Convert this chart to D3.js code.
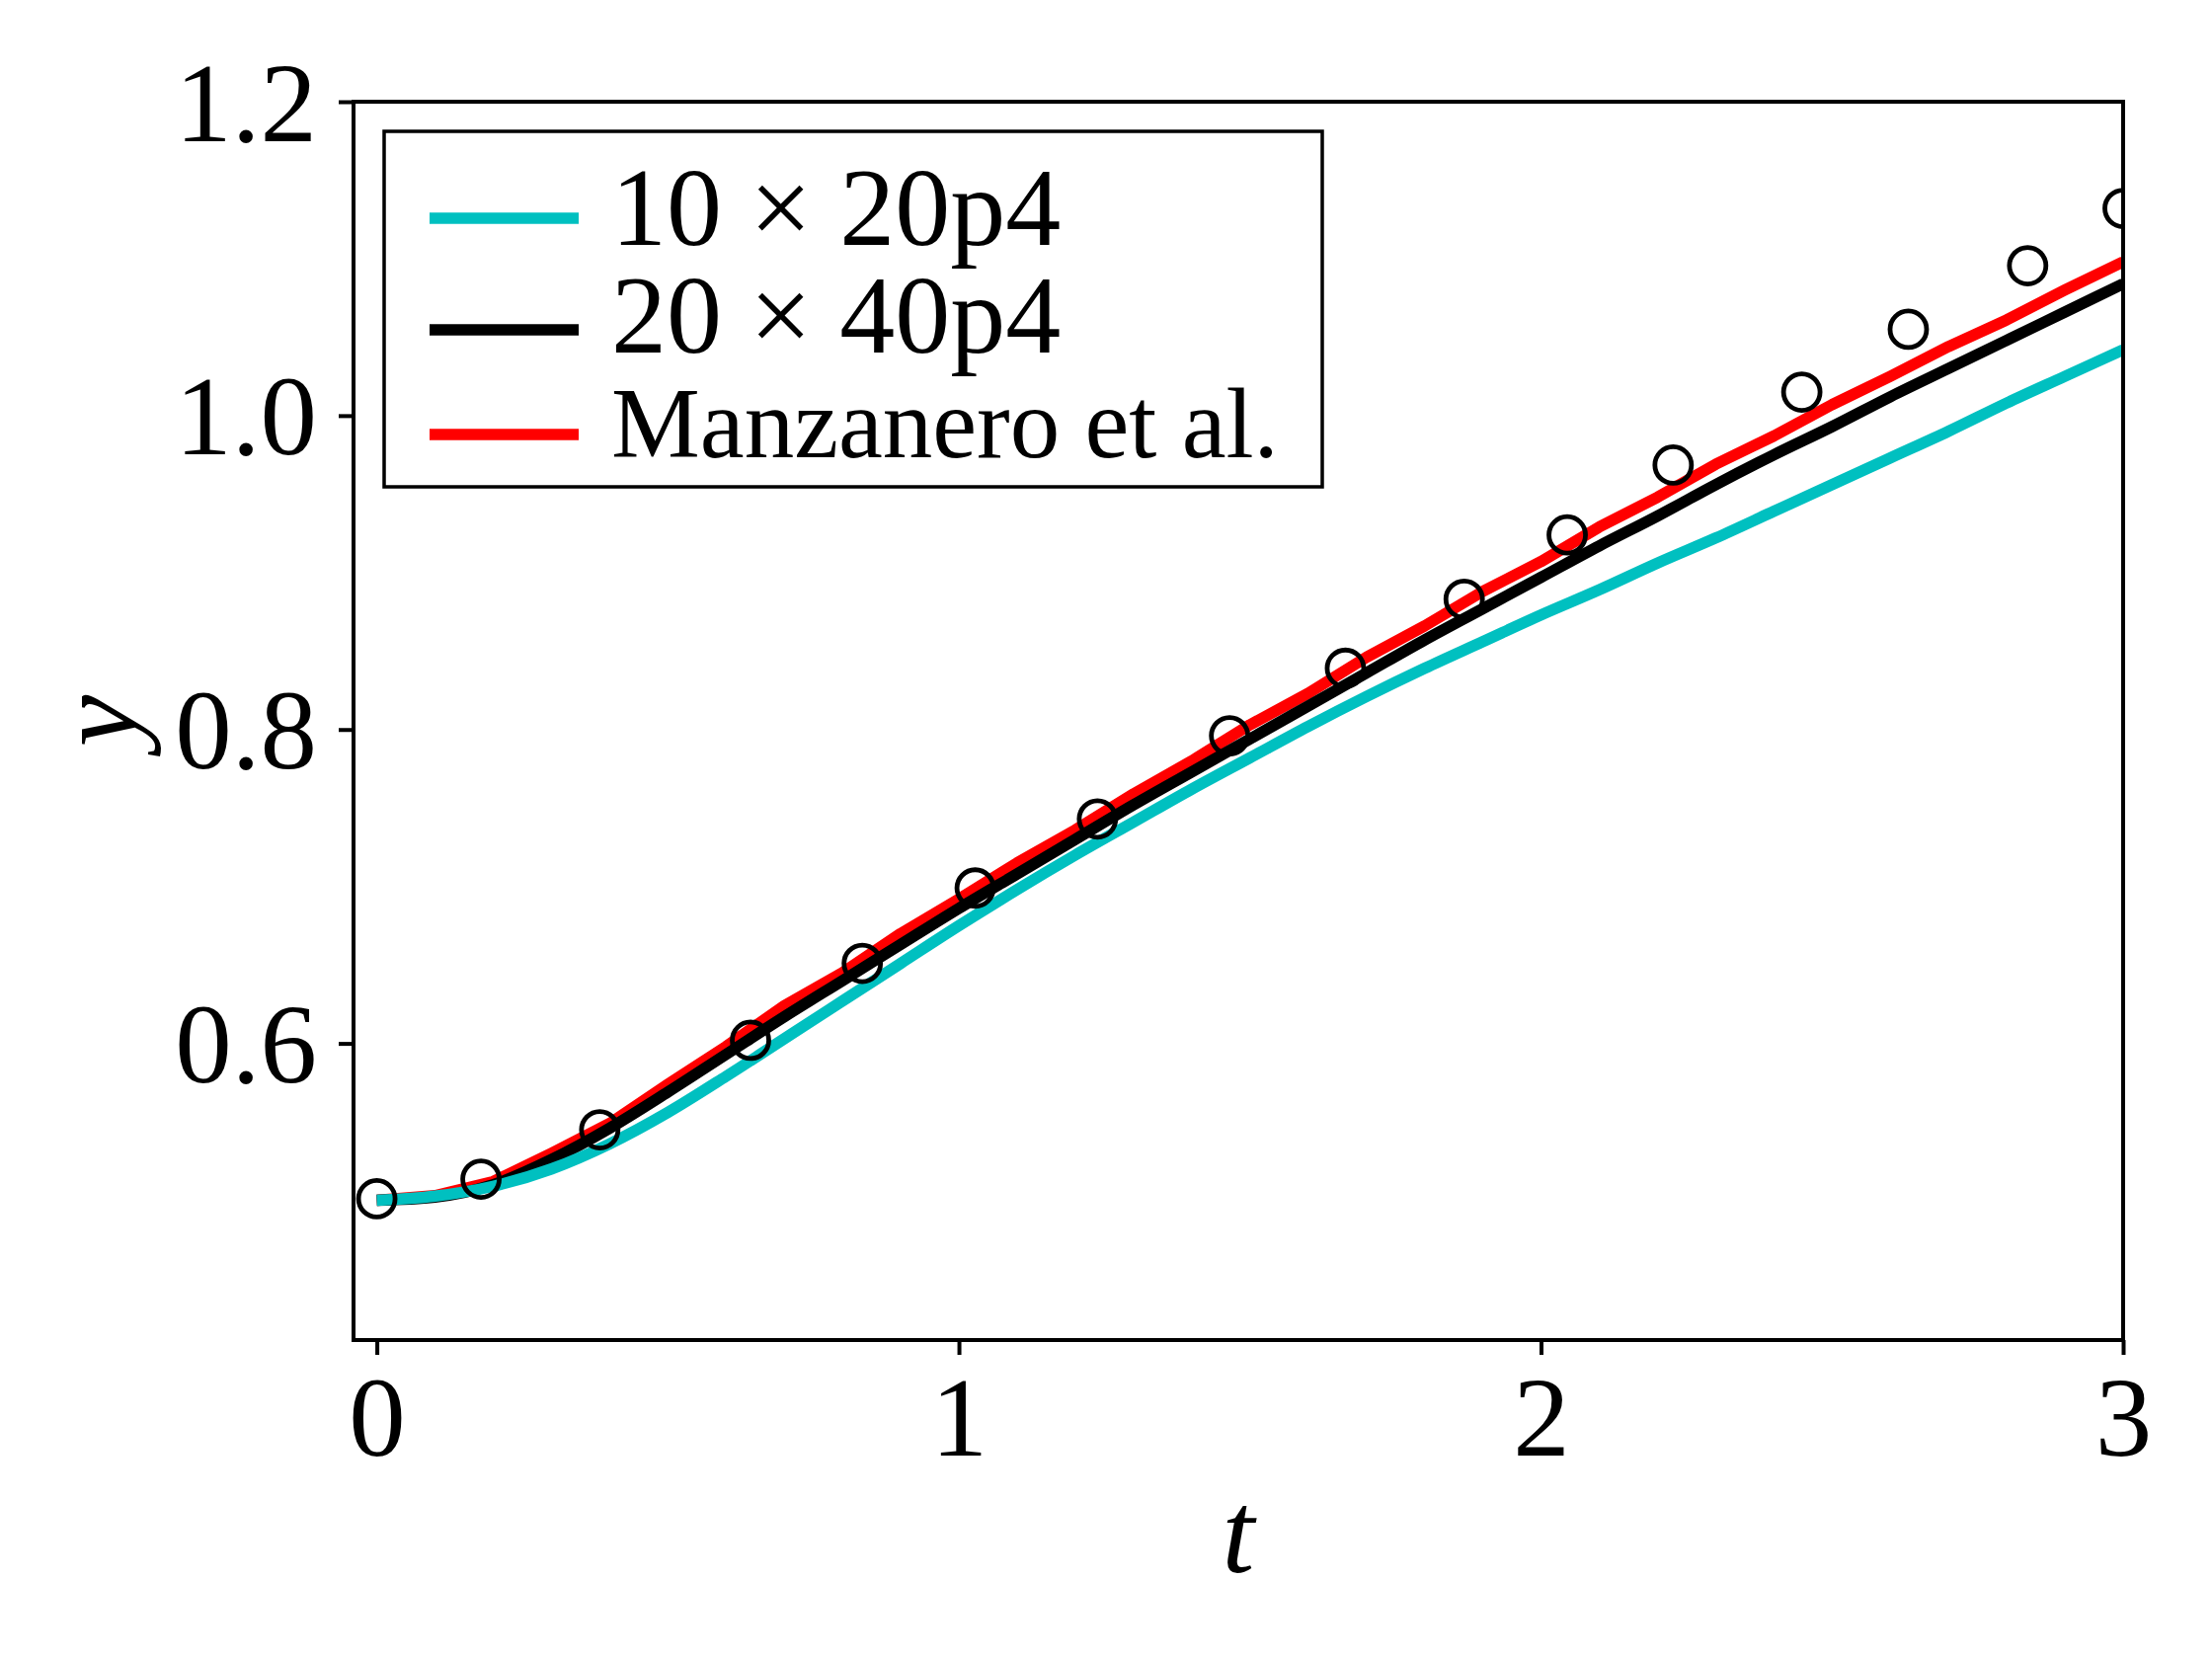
<!DOCTYPE html>
<html>
<head>
<meta charset="utf-8">
<script src="https://cdn.jsdelivr.net/npm/d3@7"></script>
<style>
  body { margin: 0; background: white; }
  svg { overflow: visible; }
  text { font-family: 'Liberation Serif', 'DejaVu Serif', serif; fill: black; }
</style>
</head>
<body>
<svg id="chart"></svg>
<script>
// time samples shared by the three curves
let tSamples = [0, 0.1, 0.2, 0.3, 0.4, 0.5, 0.6, 0.7, 0.8, 0.9, 1.0,
  1.1, 1.2, 1.3, 1.4, 1.5, 1.6, 1.7, 1.8, 1.9, 2.0,
  2.1, 2.2, 2.3, 2.4, 2.5, 2.6, 2.7, 2.8, 2.9, 3.0]

// 10 x 20p4 (cyan)
let coarseY = [0.500, 0.5027, 0.509, 0.520, 0.536, 0.556, 0.579, 0.603, 0.627, 0.651, 0.675,
  0.698, 0.720, 0.741, 0.762, 0.782, 0.802, 0.821, 0.839, 0.856, 0.873,
  0.889, 0.906, 0.922, 0.939, 0.956, 0.973, 0.990, 1.008, 1.025, 1.042]

// 20 x 40p4 (black)
let fineY = [0.500, 0.502, 0.510, 0.526, 0.546, 0.569, 0.593, 0.617, 0.640, 0.663, 0.686,
  0.708, 0.730, 0.752, 0.773, 0.794, 0.815, 0.836, 0.857, 0.877, 0.897,
  0.917, 0.936, 0.956, 0.975, 0.993, 1.012, 1.030, 1.048, 1.066, 1.084]

// Manzanero et al. (red, slightly wiggly)
let refY = [0.500, 0.503, 0.512, 0.530, 0.549, 0.574, 0.598, 0.624, 0.645, 0.670, 0.692,
  0.715, 0.736, 0.759, 0.780, 0.803, 0.823, 0.846, 0.866, 0.888, 0.907,
  0.929, 0.948, 0.969, 0.987, 1.007, 1.025, 1.044, 1.061, 1.080, 1.098]

// open circle markers
let markerT = [0, 0.179, 0.383, 0.642, 0.834, 1.028, 1.238, 1.465, 1.664, 1.868,
  2.045, 2.227, 2.448, 2.631, 2.836, 3.0]
let markerY = [0.501, 0.5135, 0.545, 0.602, 0.651, 0.699, 0.743, 0.796, 0.839, 0.883,
  0.924, 0.9685, 1.015, 1.055, 1.0955, 1.132]

let xTicks = [0, 1, 2, 3]
let yTicks = [0.6, 0.8, 1.0, 1.2]

let seriesNames = ['10 \u00d7 20p4', '20 \u00d7 40p4', 'Manzanero et al.']
let seriesColors = ['#00c0c0', 'black', 'red']

// margin convention
let outerWidth = 2240
let outerHeight = 1680
let margins = { top: 103, bottom: 323, left: 358, right: 90 }
let innerWidth = outerWidth - margins.left - margins.right
let innerHeight = outerHeight - margins.top - margins.bottom

let svg = d3.select('svg#chart')
  .attr('width', outerWidth)
  .attr('height', outerHeight)

svg.append('rect')
  .attr('width', outerWidth)
  .attr('height', outerHeight)
  .attr('fill', 'white')

let inner = svg.append('g')
  .attr('transform', `translate(${margins.left},${margins.top})`)

inner.append('clipPath')
  .attr('id', 'plot-clip')
  .append('rect')
  .attr('width', innerWidth)
  .attr('height', innerHeight)

let xScale = d3.scaleLinear().domain([-0.04, 3]).range([0, innerWidth])
let yScale = d3.scaleLinear().domain([0.411, 1.2]).range([innerHeight, 0])

// curves, drawn red first so black and cyan sit on top
// the simulation curves are smooth, the reference curve is a bit jagged
let curves = [
  { name: seriesNames[2], color: seriesColors[2], ys: refY, curve: d3.curveLinear },
  { name: seriesNames[1], color: seriesColors[1], ys: fineY, curve: d3.curveMonotoneX },
  { name: seriesNames[0], color: seriesColors[0], ys: coarseY, curve: d3.curveMonotoneX },
]

let plot = inner.append('g').attr('clip-path', 'url(#plot-clip)')

plot.selectAll('path.curve')
  .data(curves)
  .join('path')
  .attr('class', 'curve')
  .attr('d', d => d3.line()
    .x(p => xScale(p[0]))
    .y(p => yScale(p[1]))
    .curve(d.curve)(tSamples.map((t, i) => [t, d.ys[i]])))
  .attr('fill', 'none')
  .attr('stroke', d => d.color)
  .attr('stroke-width', 11.5)
  .attr('stroke-linejoin', 'round')

plot.selectAll('circle')
  .data(markerT.map((t, i) => [t, markerY[i]]))
  .join('circle')
  .attr('cx', d => xScale(d[0]))
  .attr('cy', d => yScale(d[1]))
  .attr('r', 18.5)
  .attr('fill', 'none')
  .attr('stroke', 'black')
  .attr('stroke-width', 4.8)

// axes
let xAxis = d3.axisBottom(xScale).tickValues(xTicks).tickSize(15).tickPadding(20)
  .tickFormat(d3.format('d'))
let yAxis = d3.axisLeft(yScale).tickValues(yTicks).tickSize(15).tickPadding(22)
  .tickFormat(d3.format('.1f'))

let gx = inner.append('g')
  .attr('transform', `translate(0,${innerHeight})`)
  .call(xAxis)
let gy = inner.append('g').call(yAxis)

for (let g of [gx, gy]) {
  g.select('.domain').remove()
  g.selectAll('.tick line').attr('stroke', 'black').attr('stroke-width', 4)
  g.selectAll('.tick text')
    .attr('font-family', "'Liberation Serif', serif")
    .attr('font-size', 115)
    .attr('fill', 'black')
}
gx.selectAll('.tick text').attr('dy', '0.71em')
gy.selectAll('.tick text').attr('dy', '0.34em')

// frame around plotting region
inner.append('rect')
  .attr('width', innerWidth)
  .attr('height', innerHeight)
  .attr('fill', 'none')
  .attr('stroke', 'black')
  .attr('stroke-width', 4)

// axis labels
svg.append('text')
  .attr('x', margins.left + innerWidth / 2)
  .attr('y', 1592)
  .attr('text-anchor', 'middle')
  .attr('font-size', 118)
  .attr('font-style', 'italic')
  .text('t')

svg.append('text')
  .attr('text-anchor', 'middle')
  .attr('font-size', 118)
  .attr('font-style', 'italic')
  .attr('transform', `translate(138,${margins.top + innerHeight / 2}) rotate(-90)`)
  .text('y')

// legend
let legend = svg.append('g')
legend.append('rect')
  .attr('x', 389)
  .attr('y', 133)
  .attr('width', 950)
  .attr('height', 360)
  .attr('fill', 'white')
  .attr('stroke', 'black')
  .attr('stroke-width', 3.5)

let legendRows = [
  { label: seriesNames[0], color: seriesColors[0], lineY: 221, textY: 248, size: 112 },
  { label: seriesNames[1], color: seriesColors[1], lineY: 334, textY: 357, size: 112 },
  { label: seriesNames[2], color: seriesColors[2], lineY: 440, textY: 463, size: 101 },
]

let rows = legend.selectAll('g.row')
  .data(legendRows)
  .join('g')
  .attr('class', 'row')

rows.append('line')
  .attr('x1', 435)
  .attr('x2', 586)
  .attr('y1', d => d.lineY)
  .attr('y2', d => d.lineY)
  .attr('stroke', d => d.color)
  .attr('stroke-width', 11.5)

rows.append('text')
  .attr('x', 619)
  .attr('y', d => d.textY)
  .attr('font-size', d => d.size)
  .text(d => d.label)
</script>
</body>
</html>
